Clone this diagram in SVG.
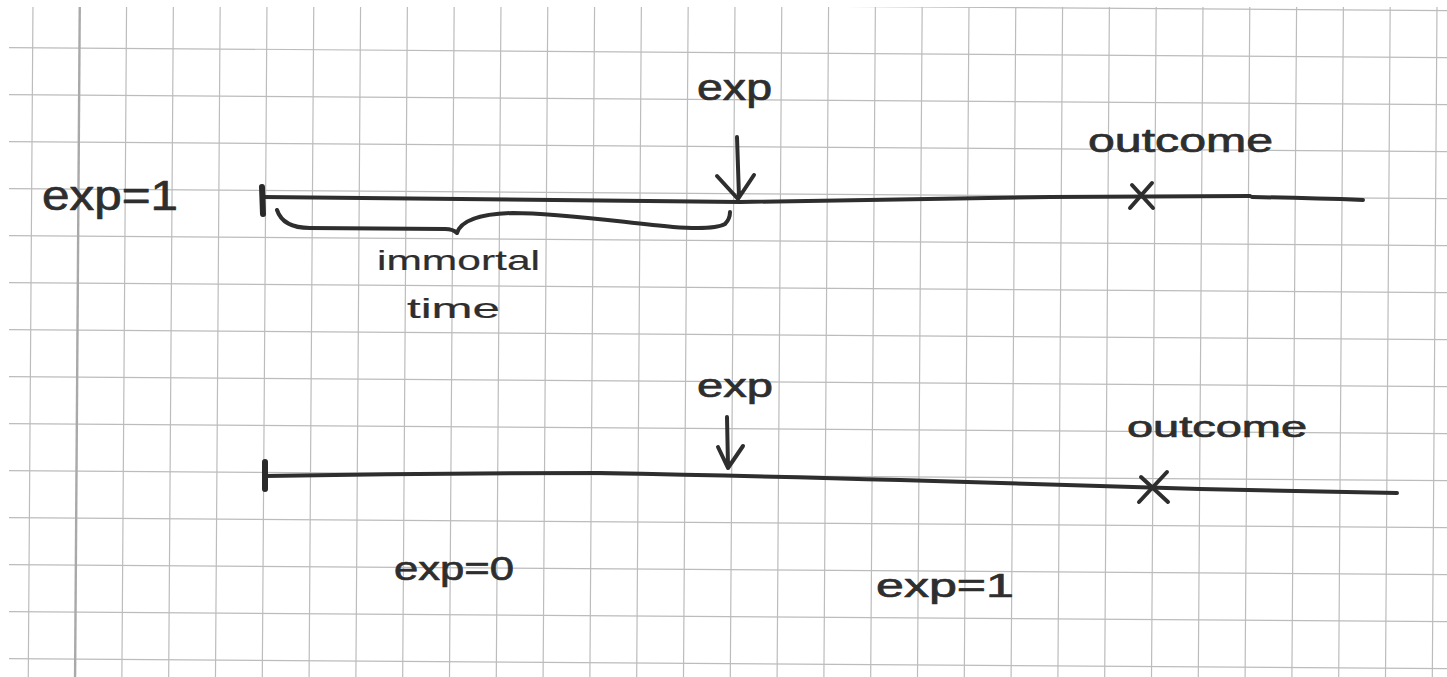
<svg xmlns="http://www.w3.org/2000/svg" width="1447" height="677" viewBox="0 0 1447 677">
  <defs>
    <clipPath id="page">
      <rect x="9" y="7" width="1438" height="670"/>
    </clipPath>
    <style>
      .grid { stroke: #bcbcbc; stroke-width: 1.2; fill: none; }
      .margin { stroke: #a9a9a9; stroke-width: 2.4; fill: none; }
      .ink { stroke: #2e2e2e; stroke-width: 4; fill: none; stroke-linecap: round; stroke-linejoin: round; }
      .tick { stroke: #2a2a2a; stroke-width: 6; fill: none; stroke-linecap: round; }
      .hand { font-family: "Liberation Sans", Arial, sans-serif; fill: #2e2e2e; stroke: #2e2e2e; stroke-width: 0.7; stroke-linejoin: round; }
      .thin { stroke-width: 0.2; }
    </style>
  </defs>

  <rect width="1447" height="677" fill="#ffffff"/>

  <!-- graph paper, slightly skewed as scanned -->
  <g id="grid" clip-path="url(#page)">
    <g transform="rotate(0.4)">
      <path class="grid" d="M-20,0.5H1470 M-20,47.5H1470 M-20,94.5H1470 M-20,141.5H1470 M-20,188.5H1470 M-20,235.5H1470 M-20,282.5H1470 M-20,329.5H1470 M-20,376.5H1470 M-20,423.5H1470 M-20,470.5H1470 M-20,517.5H1470 M-20,564.5H1470 M-20,611.5H1470 M-20,658.5H1470 M-20,705.5H1470"/>
      <path class="grid" d="M33,-20V720 M126.6,-20V720 M173.4,-20V720 M220.2,-20V720 M267,-20V720 M313.8,-20V720 M360.6,-20V720 M407.4,-20V720 M454.2,-20V720 M501,-20V720 M547.8,-20V720 M594.6,-20V720 M641.4,-20V720 M688.2,-20V720 M735,-20V720 M781.8,-20V720 M828.6,-20V720 M875.4,-20V720 M922.2,-20V720 M969,-20V720 M1015.8,-20V720 M1062.6,-20V720 M1109.4,-20V720 M1156.2,-20V720 M1203,-20V720 M1249.8,-20V720 M1296.6,-20V720 M1343.4,-20V720 M1390.2,-20V720 M1437,-20V720"/>
      <path class="margin" d="M79.8,-20V720"/>
    </g>
  </g>

  <!-- upper timeline: exposed from the start -->
  <g id="timeline-exposed">
    <path class="ink" d="M263,197 Q500,200 740,202 Q900,200 1050,197 L1250,196"/>
    <path class="ink" d="M1252,197 Q1310,198 1363,200"/>
    <path class="tick" d="M262,187 L263,214"/>
  </g>

  <g id="label-exp1-left">
    <text class="hand" x="42" y="210" font-size="42" textLength="136" lengthAdjust="spacingAndGlyphs">exp=1</text>
  </g>

  <g id="label-exp-top">
    <text class="hand" x="697" y="100" font-size="36" textLength="75" lengthAdjust="spacingAndGlyphs">exp</text>
  </g>

  <g id="outcome-top">
    <text class="hand" x="1088" y="152" font-size="34" textLength="185" lengthAdjust="spacingAndGlyphs">outcome</text>
    <path class="ink" d="M1132,185 L1153,208 M1130,208 L1152,183"/>
  </g>

  <g id="immortal-time">
    <path class="ink" d="M277,210 C281,222 292,228 310,228 L445,229 C451,229 455,231 457,233 C460,224 472,214 513,213 C560,213 620,222 673,227 C700,229 718,228 725,224 C729,220 730,216 730,212"/>
    <text class="hand thin" x="377" y="270" font-size="28" textLength="163" lengthAdjust="spacingAndGlyphs">immortal</text>
    <text class="hand thin" x="407" y="318" font-size="28" textLength="93" lengthAdjust="spacingAndGlyphs">time</text>
  </g>

  <!-- lower timeline: unexposed until exp -->
  <g id="timeline-split">
    <path class="ink" d="M265,476 Q430,473 600,473 Q760,476 900,480 Q1050,485 1200,489 L1397,493"/>
    <path class="tick" d="M265,462 L265,489"/>
  </g>

  <g id="label-exp-bottom">
    <text class="hand" x="697" y="397" font-size="34" textLength="76" lengthAdjust="spacingAndGlyphs">exp</text>
  </g>

  <g id="outcome-bottom">
    <text class="hand" x="1127" y="437" font-size="30" textLength="180" lengthAdjust="spacingAndGlyphs">outcome</text>
    <path class="ink" d="M1139,502 L1167,472 M1141,477 L1168,502"/>
  </g>

  <g id="label-exp0">
    <text class="hand" x="394" y="580" font-size="34" textLength="120" lengthAdjust="spacingAndGlyphs">exp=0</text>
  </g>

  <g id="label-exp1-right">
    <text class="hand" x="876" y="597" font-size="34" textLength="138" lengthAdjust="spacingAndGlyphs">exp=1</text>
  </g>

  <!-- exposure markers -->
  <g id="connectors">
    <path class="ink" d="M737,137 L739,197 M717,176 L738,199 L754,175"/>
    <path class="ink" d="M727,417 L728,466 M718,447 L728,468 L743,446"/>
  </g>
</svg>
